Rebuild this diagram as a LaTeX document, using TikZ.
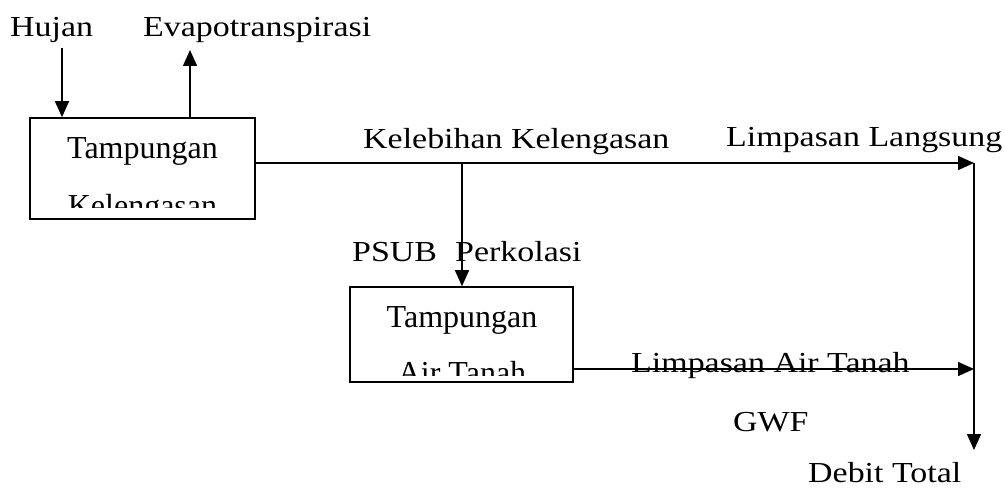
\documentclass[tikz,border=0pt]{standalone}
\usepackage{fontspec}
\setmainfont{Liberation Serif}
\newfontfamily\lblfont[FakeStretch=1.17]{Liberation Serif}
\usetikzlibrary{arrows.meta}
\tikzset{
    every node/.style={inner sep=0mm},
    store/.style={rectangle, draw, line width=1.6pt, minimum width=225pt, minimum height=101pt},
    boxtext/.style={anchor=base, font=\fontsize{32}{38}\selectfont},
    lbl/.style={anchor=base west, font=\lblfont\fontsize{29}{35}\selectfont},
    flow/.style={line width=1.5pt, -{Triangle[length=16pt,width=14pt]}}
}

\begin{document}
\begin{tikzpicture}[x=1pt, y=-1pt]
        \useasboundingbox (0,0) rectangle (1005,489);
        \node (box1) [store] at (142.5,168.5) {};
        \node (box2) [store, minimum width=223pt, minimum height=95pt] at (461.5,334.5) {};
        \node (t1a) [boxtext] at (142.5,159) {Tampungan};
        \node (t2a) [boxtext] at (462,327) {Tampungan};
        \begin{scope}
                \clip (30,118) rectangle (255,208);
                \node (t1b) [boxtext] at (142.5,217) {Kelengasan};
        \end{scope}
        \begin{scope}
                \clip (350,287) rectangle (573,375);
                \node (t2b) [boxtext] at (462,384) {Air Tanah};
        \end{scope}
        \node (hujan) [lbl] at (10,37) {Hujan};
        \node (evap) [lbl] at (143,37) {Evapotranspirasi};
        \node (lebih) [lbl] at (363,149) {Kelebihan Kelengasan};
        \node (langsung) [lbl] at (726,147) {Limpasan Langsung};
        \node (psub) [lbl] at (352,262) {PSUB};
        \node (perkolasi) [lbl] at (455,262) {Perkolasi};
        \node (airtanah) [lbl] at (631,373) {Limpasan Air Tanah};
        \node (gwf) [lbl] at (733,431) {GWF};
        \node (debit) [lbl] at (808,482) {Debit Total};
        \coordinate (h0) at (62,48);
        \coordinate (e0) at (190,50);
        \coordinate (p0) at (462,163);
        \coordinate (j1) at (974,163);
        \coordinate (j2) at (974,369);
        \coordinate (q0) at (974,450);
        \draw [flow] (h0) -- (h0 |- box1.north);
        \draw [flow] (e0 |- box1.north) -- (e0);
        \draw [flow] (box1.east |- j1) -- (j1);
        \draw [flow] (p0) -- (p0 |- box2.north);
        \draw [flow] (box2.east |- j2) -- (j2);
        \draw [flow] (j1) -- (q0);
\end{tikzpicture}
\end{document}
